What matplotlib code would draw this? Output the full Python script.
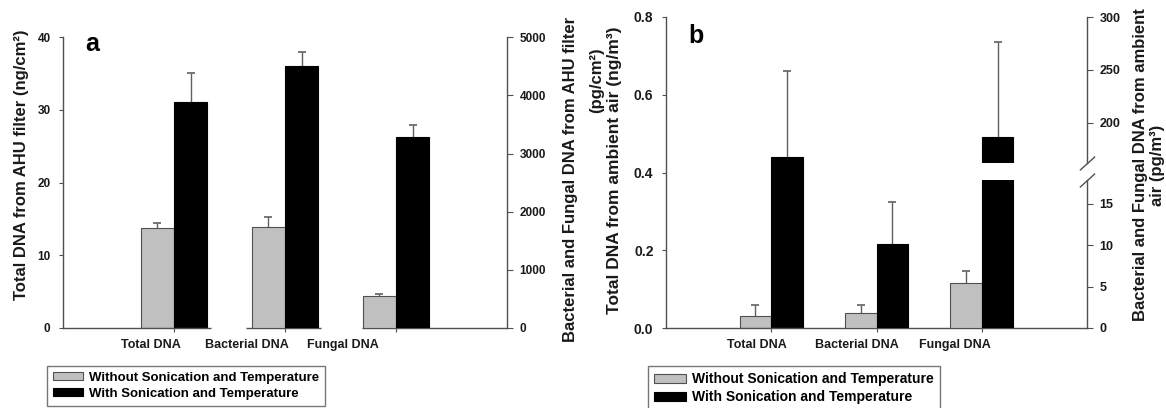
import numpy as np
import matplotlib.pyplot as plt
from matplotlib.patches import Patch
from matplotlib.ticker import FormatStrFormatter

plt.rcParams['font.family'] = ['Liberation Sans', 'DejaVu Sans']
plt.rcParams['font.weight'] = 'bold'

# ---- data ----
categories = ["Total DNA", "Bacterial DNA", "Fungal DNA"]
series_names = ["Without Sonication and Temperature", "With Sonication and Temperature"]

# (a) AHU filter: Total DNA in ng/cm², bacterial and fungal in pg/cm²
ahu_without = [13.75, 1740, 550]
ahu_without_err = [0.65, 170, 30]
ahu_with = [31.1, 4500, 3280]
ahu_with_err = [4.0, 240, 220]

# (b) ambient air: Total DNA in ng/m³, bacterial and fungal in pg/m³
air_without = [0.03, 1.85, 5.4]
air_without_err = [0.03, 0.95, 1.5]
air_with = [0.44, 10.2, 187]
air_with_err = [0.22, 5.0, 89]

# ---- style ----
W, H = 1166, 408
GRAY = "#c0c0c0"
EDGE = "#505050"
AXC = "#505050"
TXT = "#1a1a1a"
BW = 0.3
x = np.arange(1, len(categories) + 1)


def rect(l, t, r, b):
    # pixel box -> figure fraction
    return [l / W, 1 - b / H, (r - l) / W, (b - t) / H]


def pos(px, py):
    return px / W, 1 - py / H


def upper_err(ax, xc, val, err):
    # only the upper half of the error bar, no cap at the bar top
    _, caps, _ = ax.errorbar(xc, val, yerr=[[0], [err]], fmt='none', ecolor='#606060',
                             elinewidth=1, capsize=3, capthick=1.2, zorder=1)
    for c in caps:
        if np.allclose(c.get_ydata(), val):
            c.set_visible(False)


def bars(ax, idx, without, wo_err, with_, w_err):
    for i in idx:
        ax.bar(x[i] - BW, without[i], BW, align='edge', color=GRAY,
               edgecolor=EDGE, linewidth=0.8, zorder=2)
        ax.bar(x[i], with_[i], BW, align='edge', color='black',
               edgecolor='black', linewidth=0.8, zorder=2)
        upper_err(ax, x[i] - BW / 2, without[i], wo_err[i])
        upper_err(ax, x[i] + BW / 2, with_[i], w_err[i])


def style_main(ax, label_pos, tick_size):
    ax.set_xlim(0, 4)
    for s in ['top', 'right']:
        ax.spines[s].set_visible(False)
    for s in ['left', 'bottom']:
        ax.spines[s].set_color(AXC)
        ax.spines[s].set_linewidth(1)
    ax.set_xticks(x)
    ax.set_xticklabels([])
    ax.set_xticks(label_pos, minor=True)
    ax.set_xticklabels(categories, minor=True, fontsize=9, fontweight='bold', color=TXT)
    ax.tick_params(axis='x', which='major', direction='out', length=3, color=AXC)
    ax.tick_params(axis='x', which='minor', length=0, pad=8)
    ax.tick_params(axis='y', direction='out', length=3, color=AXC,
                   labelsize=tick_size, labelcolor=TXT, pad=6)


def style_right(ax, tick_size):
    ax.patch.set_visible(False)
    for s in ['top', 'left', 'bottom']:
        ax.spines[s].set_visible(False)
    ax.spines['right'].set_color(AXC)
    ax.spines['right'].set_linewidth(1)
    ax.yaxis.tick_right()
    ax.set_xticks([])
    ax.set_xlim(0, 4)
    ax.tick_params(axis='y', direction='out', length=4, color=AXC,
                   labelsize=tick_size, labelcolor=TXT, pad=5)


fig = plt.figure(figsize=(W / 100, H / 100), dpi=100)

# ---------------- panel a ----------------
ax_a = fig.add_axes(rect(63, 37.3, 507, 328))
bars(ax_a, [0], ahu_without, ahu_without_err, ahu_with, ahu_with_err)
ax_a.set_ylim(0, 40)
ax_a.set_yticks([0, 10, 20, 30, 40])
style_main(ax_a, [0.79, 1.66, 2.52], 8.5)
# the x axis line of panel a is broken between the groups
ax_a.spines['bottom'].set_visible(False)
for a0, a1 in [(0, 1.33), (1.65, 2.32), (2.69, 4)]:
    ax_a.plot([a0, a1], [0, 0], color=AXC, lw=1, clip_on=False, zorder=3,
              solid_capstyle='butt')

ax_a2 = fig.add_axes(rect(63, 37.3, 507, 328))
bars(ax_a2, [1, 2], ahu_without, ahu_without_err, ahu_with, ahu_with_err)
ax_a2.set_ylim(0, 5000)
ax_a2.set_yticks([0, 1000, 2000, 3000, 4000, 5000])
style_right(ax_a2, 8.5)

fig.text(*pos(22, 165), "Total DNA from AHU filter (ng/cm²)", rotation=90,
         ha='center', va='center', fontsize=12, fontweight='bold', color=TXT)
fig.text(*pos(571, 179), "Bacterial and Fungal DNA from AHU filter", rotation=90,
         ha='center', va='center', fontsize=12, fontweight='bold', color=TXT)
fig.text(*pos(597, 80), "(pg/cm²)", rotation=90,
         ha='center', va='center', fontsize=12, fontweight='bold', color=TXT)
fig.text(*pos(92, 44), "a", ha='center', va='center', fontsize=18, fontweight='bold')

handles = [Patch(facecolor=GRAY, edgecolor=EDGE, linewidth=0.8),
           Patch(facecolor='black', edgecolor='black', linewidth=0.8)]
leg_a = fig.legend(handles, series_names, loc='upper left', bbox_to_anchor=pos(47, 366),
                   prop={'weight': 'bold', 'size': 9.5}, frameon=True, fancybox=False,
                   handlelength=2.3, handleheight=0.55, handletextpad=0.4,
                   labelspacing=0.3, borderpad=0.45, borderaxespad=0)
leg_a.get_frame().set_edgecolor('#555555')
leg_a.get_frame().set_linewidth(1)

# ---------------- panel b ----------------
ax_b = fig.add_axes(rect(666, 17, 1087, 328))
bars(ax_b, [0], air_without, air_without_err, air_with, air_with_err)
ax_b.set_ylim(0, 0.8)
ax_b.set_yticks([0, 0.2, 0.4, 0.6, 0.8])
ax_b.yaxis.set_major_formatter(FormatStrFormatter('%.1f'))
style_main(ax_b, [0.86, 1.81, 2.74], 10)

# broken right axis: lower part 0-18, upper part 162-300
ax_lo = fig.add_axes(rect(666, 180, 1087, 328))
bars(ax_lo, [1, 2], air_without, air_without_err, air_with, air_with_err)
ax_lo.set_ylim(0, 17.9)
ax_lo.set_yticks([0, 5, 10, 15])
style_right(ax_lo, 9)

ax_hi = fig.add_axes(rect(666, 17, 1087, 163))
bars(ax_hi, [1, 2], air_without, air_without_err, air_with, air_with_err)
ax_hi.set_ylim(162, 300)
ax_hi.set_yticks([200, 250, 300])
style_right(ax_hi, 9)

brk = dict(marker=[(-1, -0.9), (1, 0.9)], markersize=11, linestyle='none',
           color=AXC, mec=AXC, mew=1, clip_on=False)
ax_hi.plot([1], [0], transform=ax_hi.transAxes, **brk)
ax_lo.plot([1], [1], transform=ax_lo.transAxes, **brk)

fig.text(*pos(615, 170), "Total DNA from ambient air (ng/m³)", rotation=90,
         ha='center', va='center', fontsize=12.5, fontweight='bold', color=TXT)
fig.text(*pos(1149, 165), "Bacterial and Fungal DNA from ambient\nair (pg/m³)", rotation=90,
         ha='center', va='center', fontsize=12, fontweight='bold', color=TXT,
         linespacing=1.1, multialignment='center')
fig.text(*pos(696, 36), "b", ha='center', va='center', fontsize=18, fontweight='bold')

leg_b = fig.legend(handles, series_names, loc='upper left', bbox_to_anchor=pos(648, 366),
                   prop={'weight': 'bold', 'size': 10}, frameon=True, fancybox=False,
                   handlelength=2.3, handleheight=0.55, handletextpad=0.4,
                   labelspacing=0.3, borderpad=0.45, borderaxespad=0)
leg_b.get_frame().set_edgecolor('#555555')
leg_b.get_frame().set_linewidth(1)

fig.savefig("out.png", dpi=100)
